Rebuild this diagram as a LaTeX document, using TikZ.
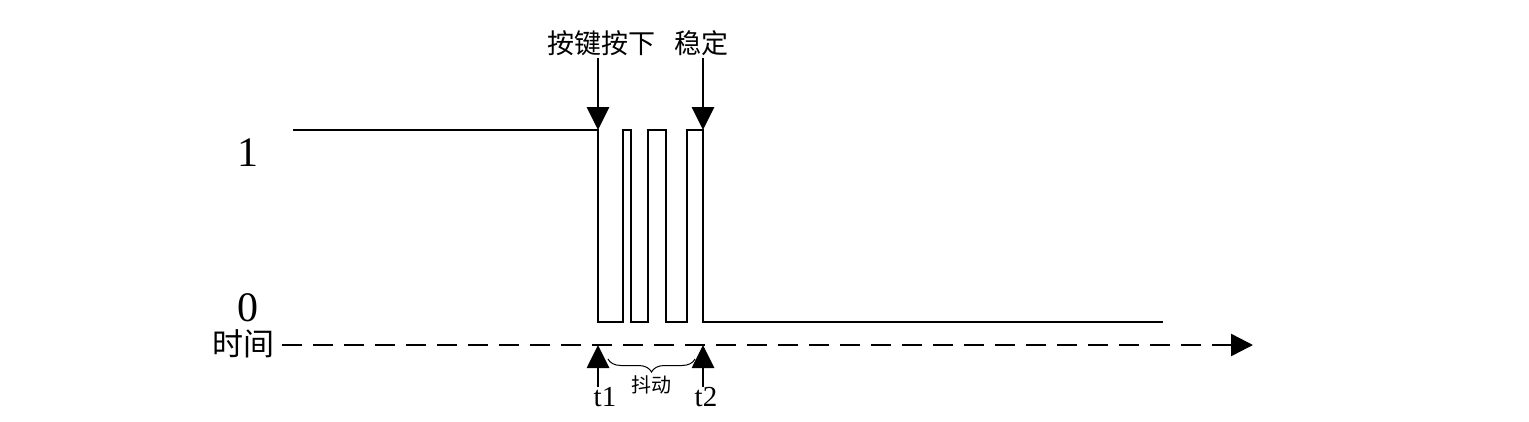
\documentclass[tikz,border=0pt]{standalone}
\usepackage{fontspec}
\setmainfont{Liberation Serif}
\newfontfamily\cjk{Noto Sans CJK SC}
\usetikzlibrary{arrows.meta,decorations.pathreplacing}
\begin{document}
\begin{tikzpicture}[x=1pt,y=1pt,
  sig/.style={line width=2.6pt,line join=miter},
  downarr/.style={line width=2.8pt,-{Triangle[length=23pt,width=22pt]}},
  axis/.style={line width=2.5pt,dash pattern=on 20pt off 11pt,-{Triangle[length=22pt,width=22pt]}},
  lbl/.style={inner sep=0pt,font=\cjk\fontsize{27}{30}\selectfont},
  num/.style={inner sep=0pt,font=\fontsize{42}{46}\selectfont},
  tlbl/.style={inner sep=0pt,font=\fontsize{29}{32}\selectfont},
  brc/.style={line width=1pt,decorate,decoration={brace,amplitude=13pt}}]
\useasboundingbox (0,0) rectangle (1529,-421);
% signal
\coordinate (s0) at (293,-130);
\coordinate (e0) at (1163,-322);
\draw[sig] (s0) -- (598,-130) -- (598,-322) -- (623,-322) -- (623,-130) -- (631,-130)
  -- (631,-322) -- (648,-322) -- (648,-130) -- (666,-130) -- (666,-322) -- (687,-322)
  -- (687,-130) -- (703,-130) -- (703,-322) -- (e0);
% labels
\node[num] (one) at (248,-153) {1};
\node[num] (zero) at (248,-308) {0};
\node[lbl,font=\cjk\fontsize{31}{34}\selectfont] (time) at (243,-344) {时间};
% axis
\coordinate (ax0) at (282,-345);
\coordinate (ax1) at (1253,-345);
\draw[axis] (ax0) -- (ax1);
% top arrows
\node[lbl] (press) at (601,-43) {按键按下};
\node[lbl] (stable) at (701,-43) {稳定};
\coordinate (p1) at (598,-58);
\coordinate (p2) at (598,-130);
\coordinate (q1) at (703,-58);
\coordinate (q2) at (703,-130);
\draw[downarr] (p1) -- (p2);
\draw[downarr] (q1) -- (q2);
% bottom arrows
\coordinate (b1) at (598,-387);
\coordinate (b2) at (598,-345);
\coordinate (c1) at (703,-387);
\coordinate (c2) at (703,-345);
\draw[downarr] (b1) -- (b2);
\draw[downarr] (c1) -- (c2);
\node[tlbl] (t1) at (605,-397) {t1};
\node[tlbl] (t2) at (706,-397) {t2};
% brace
\coordinate (br1) at (695,-359);
\coordinate (br0) at (608,-359);
\draw[brc] (br1) -- (br0);
\node[lbl,font=\cjk\fontsize{20}{22}\selectfont] (jit) at (651,-385) {抖动};
\end{tikzpicture}
\end{document}
